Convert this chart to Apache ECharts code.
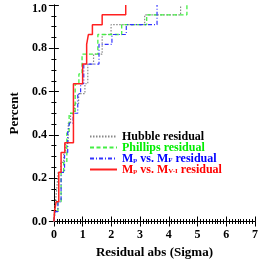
<!DOCTYPE html>
<html><head><meta charset="utf-8">
<script src="https://cdn.jsdelivr.net/npm/echarts@6/dist/echarts.min.js"></script>
<style>html,body{margin:0;padding:0;background:#fff}#c{width:266px;height:266px}</style>
</head><body><div id="c"></div>
<script>
// Residual values (sorted), one per object (N = 22)
const hubbleVals  = [0.02, 0.05, 0.09, 0.15, 0.15, 0.24, 0.34, 0.41, 0.50, 0.50, 0.58, 0.72, 0.86, 1.08, 1.18, 1.18, 1.38, 1.68, 1.68, 1.99, 3.16, 4.41];
const phillipsVals = [0.03, 0.14, 0.25, 0.25, 0.25, 0.34, 0.45, 0.45, 0.45, 0.53, 0.53, 0.74, 0.74, 0.74, 0.87, 0.98, 0.98, 1.53, 1.53, 2.36, 3.23, 4.63];
const mfVals      = [0.05, 0.14, 0.25, 0.25, 0.25, 0.37, 0.37, 0.48, 0.48, 0.54, 0.67, 0.83, 0.83, 0.93, 1.04, 1.04, 1.57, 1.57, 2.02, 2.52, 3.59, 3.59];
const mviVals     = [0.02, 0.08, 0.17, 0.17, 0.17, 0.25, 0.25, 0.38, 0.68, 0.68, 0.68, 0.68, 0.68, 0.68, 1.00, 1.00, 1.14, 1.14, 1.20, 1.34, 1.68, 2.50];
const seriesNames = ['Hubble residual', 'Phillips residual', 'Mp vs. MF residual', 'Mp vs. MVI residual'];
const xTicks = [0, 1, 2, 3, 4, 5, 6, 7];
const yTicks = [0.0, 0.2, 0.4, 0.6, 0.8, 1.0];

function ecdf(vals) {
  const n = vals.length;
  const pts = [[0, 0]];
  let i = 0;
  while (i < n) {
    let j = i;
    while (j < n && vals[j] === vals[i]) j++;
    pts.push([vals[i], j / n]);
    i = j;
  }
  return pts;
}

const FONT = "'Liberation Serif','DejaVu Serif',serif";
const colors = ['#888888', '#44ee44', '#3333ff', '#ff2020'];
const textColors = ['#000000', '#00ee00', '#0000ff', '#ff0000'];

function richFor(c, key) {
  return {
    [key + 'm']: {color: c, fontFamily: FONT, fontWeight: 'bold', fontSize: 12, lineHeight: 11},
    [key + 's']: {color: c, fontFamily: FONT, fontWeight: 'bold', fontSize: 7, lineHeight: 6, verticalAlign: 'bottom'}
  };
}
const rich = Object.assign({}, richFor(textColors[0], 'a'), richFor(textColors[1], 'b'), richFor(textColors[2], 'c'), richFor(textColors[3], 'd'),
  {top: {fontFamily: FONT, fontWeight: 'bold', fontSize: 12, color: '#000', padding: [7, 0, 0, 0]}});

const chart = echarts.init(document.getElementById('c'), null, {renderer: 'canvas'});
const axisCommon = {
  axisLine: {show: true, lineStyle: {color: '#000', width: 1}},
  axisTick: {show: true, inside: true, length: 5, lineStyle: {color: '#000'}},
  splitLine: {show: false}
};
chart.setOption({
  animation: false,
  grid: {left: 51, right: 11, top: 5, bottom: 44.5},
  xAxis: [
    Object.assign({}, axisCommon, {
      type: 'value', min: xTicks[0], max: xTicks[xTicks.length - 1], interval: 1,
      name: 'Residual abs (Sigma)', nameLocation: 'middle', nameGap: 25,
      nameTextStyle: {fontFamily: FONT, fontWeight: 'bold', fontSize: 13, color: '#000'},
      minorTick: {show: true, splitNumber: 10, length: 2.5, lineStyle: {color: '#000'}},
      axisLabel: {fontFamily: FONT, fontWeight: 'bold', fontSize: 12, color: '#000', margin: 7}
    }),
    Object.assign({}, axisCommon, {
      type: 'value', position: 'top', min: xTicks[0], max: xTicks[xTicks.length - 1], interval: 1,
      minorTick: {show: true, splitNumber: 10, length: 2.5, lineStyle: {color: '#000'}},
      axisLabel: {show: false}
    })
  ],
  yAxis: [
    Object.assign({}, axisCommon, {
      type: 'value', min: yTicks[0], max: yTicks[yTicks.length - 1], interval: 0.2,
      name: 'Percent', nameLocation: 'middle', nameGap: 28,
      nameTextStyle: {fontFamily: FONT, fontWeight: 'bold', fontSize: 13, color: '#000'},
      minorTick: {show: true, splitNumber: 4, length: 2.5, lineStyle: {color: '#000'}},
      axisLabel: {fontFamily: FONT, fontWeight: 'bold', fontSize: 12, color: '#000', margin: 7,
        rich: rich,
        formatter: v => (v === 1 ? '{top|1.0}' : v.toFixed(1))}
    }),
    Object.assign({}, axisCommon, {
      type: 'value', position: 'right', min: yTicks[0], max: yTicks[yTicks.length - 1], interval: 0.2,
      minorTick: {show: true, splitNumber: 4, length: 2.5, lineStyle: {color: '#000'}},
      axisLabel: {show: false}
    })
  ],
  legend: {
    orient: 'vertical', left: 89, top: 130.5, itemWidth: 27, itemHeight: 8, itemGap: -1,
    padding: 0,
    data: seriesNames,
    itemStyle: {opacity: 0},
    textStyle: {fontFamily: FONT, fontWeight: 'bold', fontSize: 12, lineHeight: 11, rich: rich},
    formatter: function (name) {
      if (name === seriesNames[0]) return '{am|Hubble residual}';
      if (name === seriesNames[1]) return '{bm|Phillips residual}';
      if (name === seriesNames[2]) return '{cm|M}{cs|p}{cm| vs. M}{cs|F}{cm| residual}';
      return '{dm|M}{ds|p}{dm| vs. M}{ds|V-I}{dm| residual}';
    }
  },
  series: [
    {name: seriesNames[0], type: 'line', step: 'end', data: ecdf(hubbleVals), symbol: 'none',
     lineStyle: {color: colors[0], width: 1.2, type: [1.5, 1.5]}, itemStyle: {color: colors[0]}},
    {name: seriesNames[1], type: 'line', step: 'end', data: ecdf(phillipsVals), symbol: 'none',
     lineStyle: {color: colors[1], width: 1.3, type: [4, 2.5]}, itemStyle: {color: colors[1]}},
    {name: seriesNames[2], type: 'line', step: 'end', data: ecdf(mfVals), symbol: 'none',
     lineStyle: {color: colors[2], width: 1.2, type: [4, 2, 1, 2]}, itemStyle: {color: colors[2]}},
    {name: seriesNames[3], type: 'line', step: 'end', data: ecdf(mviVals), symbol: 'none',
     lineStyle: {color: colors[3], width: 1.5, type: 'solid'}, itemStyle: {color: colors[3]}}
  ]
});
</script></body></html>
